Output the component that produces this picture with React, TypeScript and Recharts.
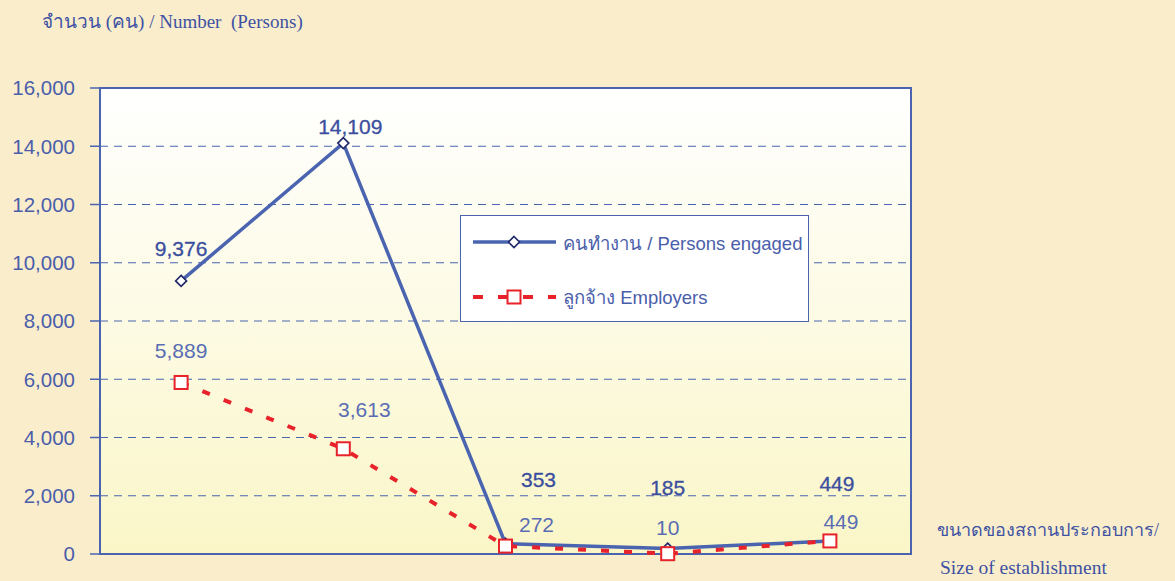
import {
  LineChart,
  Line,
  XAxis,
  YAxis,
  CartesianGrid,
  ReferenceArea,
  LabelList,
} from "recharts";

const categories = ["ขนาด 1", "ขนาด 2", "ขนาด 3", "ขนาด 4", "ขนาด 5"];
const personsEngaged = [9376, 14109, 353, 185, 449];
const employees = [5889, 3613, 272, 10, 449];
const yTicks = [0, 2000, 4000, 6000, 8000, 10000, 12000, 14000, 16000];

const seriesNames = {
  persons: "คนทำงาน / Persons engaged",
  employees: "ลูกจ้าง Employers",
};

// label nudges (px) relative to each point, same order as categories
const personsLabelShift = [
  [0, -32],
  [7, -17],
  [33, -64],
  [0, -61],
  [7, -57],
];
const employeesLabelShift = [
  [0, -32],
  [21, -39],
  [31, -22],
  [0, -26],
  [11, -19],
];

const data = categories.map((cat, i) => ({
  cat,
  persons: personsEngaged[i],
  employees: employees[i],
}));

const BLUE = "#4A64B0";
const TEXT_BLUE = "#4A5EAA";
const RED = "#E8222A";
const SANS = "'Liberation Sans', Arial, sans-serif";
const SERIF = "'Liberation Serif', 'Times New Roman', serif";

const fmt = (v: number) => v.toLocaleString("en-US");

const Diamond = (props: any) => {
  const { cx, cy } = props;
  if (cx == null || cy == null) return null;
  const r = 5.5;
  return (
    <path
      d={`M${cx},${cy - r}L${cx + r},${cy}L${cx},${cy + r}L${cx - r},${cy}Z`}
      fill="#fff"
      stroke="#1F2767"
      strokeWidth={1.6}
    />
  );
};

const Square = (props: any) => {
  const { cx, cy } = props;
  if (cx == null || cy == null) return null;
  return (
    <rect
      x={cx - 6.5}
      y={cy - 6.5}
      width={13}
      height={13}
      fill="#fff"
      stroke={RED}
      strokeWidth={2}
    />
  );
};

const makeLabel =
  (shift: number[][], heavy: boolean, color: string) => (props: any) => {
    const { x, y, value, index } = props;
    const [dx, dy] = shift[index] || [0, -20];
    return (
      <text
        x={x + dx}
        y={y + dy}
        textAnchor="middle"
        dominantBaseline="central"
        fill={color}
        stroke={heavy ? color : "none"}
        strokeWidth={heavy ? 0.3 : 0}
        fontFamily={SANS}
        fontSize={21}
      >
        {fmt(value)}
      </text>
    );
  };

const LegendBox = () => (
  <div
    style={{
      position: "absolute",
      left: 460,
      top: 215,
      width: 349,
      height: 107,
      boxSizing: "border-box",
      background: "#fff",
      border: `1px solid ${BLUE}`,
      fontFamily: SANS,
      fontSize: 18.5,
      color: TEXT_BLUE,
    }}
  >
    <svg width={100} height={107} style={{ position: "absolute", left: 0, top: 0 }}>
      <line x1={12} x2={95} y1={26} y2={26} stroke={BLUE} strokeWidth={3.5} />
      <Diamond cx={53} cy={26} />
      <line
        x1={12}
        x2={95}
        y1={81}
        y2={81}
        stroke={RED}
        strokeWidth={4}
        strokeDasharray="10 15"
      />
      <Square cx={53} cy={81} />
    </svg>
    <div style={{ position: "absolute", left: 102, top: 13, whiteSpace: "nowrap" }}>
      {seriesNames.persons}
    </div>
    <div style={{ position: "absolute", left: 102, top: 67, whiteSpace: "nowrap" }}>
      {seriesNames.employees}
    </div>
  </div>
);

export default function App() {
  return (
    <div
      style={{
        position: "absolute",
        left: 0,
        top: 0,
        width: 1175,
        height: 581,
        background: "#FAEDCC",
        overflow: "hidden",
      }}
    >
      <div
        style={{
          position: "absolute",
          left: 42,
          top: 6,
          fontFamily: SERIF,
          fontSize: 19,
          color: "#3E52A2",
          whiteSpace: "pre",
        }}
      >
        {"จำนวน (คน) / Number  (Persons)"}
      </div>

      <LineChart
        width={1175}
        height={581}
        data={data}
        margin={{ top: 88, right: 264, bottom: 27, left: 0 }}
      >
        <defs>
          <linearGradient id="plotBg" x1="0" y1="0" x2="0" y2="1">
            <stop offset="0%" stopColor="#FFFFFF" />
            <stop offset="100%" stopColor="#FAF6C8" />
          </linearGradient>
        </defs>

        <CartesianGrid
          vertical={false}
          stroke={BLUE}
          strokeDasharray="8 6"
          fill="url(#plotBg)"
          fillOpacity={1}
        />

        <XAxis dataKey="cat" scale="band" hide />

        <YAxis
          width={100}
          domain={[0, 16000]}
          ticks={yTicks}
          axisLine={false}
          tickLine={{ stroke: BLUE, strokeWidth: 1.5 }}
          tickSize={10}
          tickMargin={15}
          tickFormatter={fmt}
          tick={{ fill: TEXT_BLUE, fontSize: 20.5, fontFamily: SANS }}
        />

        <ReferenceArea
          y1={0}
          y2={16000}
          fill="none"
          stroke={BLUE}
          strokeWidth={2}
          ifOverflow="visible"
        />

        <Line
          dataKey="persons"
          name={seriesNames.persons}
          stroke={BLUE}
          strokeWidth={3.5}
          dot={<Diamond />}
          activeDot={false}
          isAnimationActive={false}
        >
          <LabelList
            dataKey="persons"
            content={makeLabel(personsLabelShift, true, "#3B4E9E")}
          />
        </Line>

        <Line
          dataKey="employees"
          name={seriesNames.employees}
          stroke={RED}
          strokeWidth={4}
          strokeDasharray="8 15"
          dot={<Square />}
          activeDot={false}
          isAnimationActive={false}
        >
          <LabelList
            dataKey="employees"
            content={makeLabel(employeesLabelShift, false, "#5A6DB4")}
          />
        </Line>
      </LineChart>

      <LegendBox />

      <div
        style={{
          position: "absolute",
          left: 937,
          top: 515,
          fontFamily: SERIF,
          fontSize: 18,
          color: "#3E52A2",
          whiteSpace: "nowrap",
        }}
      >
        ขนาดของสถานประกอบการ/
      </div>
      <div
        style={{
          position: "absolute",
          left: 940,
          top: 557,
          fontFamily: SERIF,
          fontSize: 19.5,
          color: "#3E52A2",
          whiteSpace: "nowrap",
        }}
      >
        Size of establishment
      </div>
    </div>
  );
}
